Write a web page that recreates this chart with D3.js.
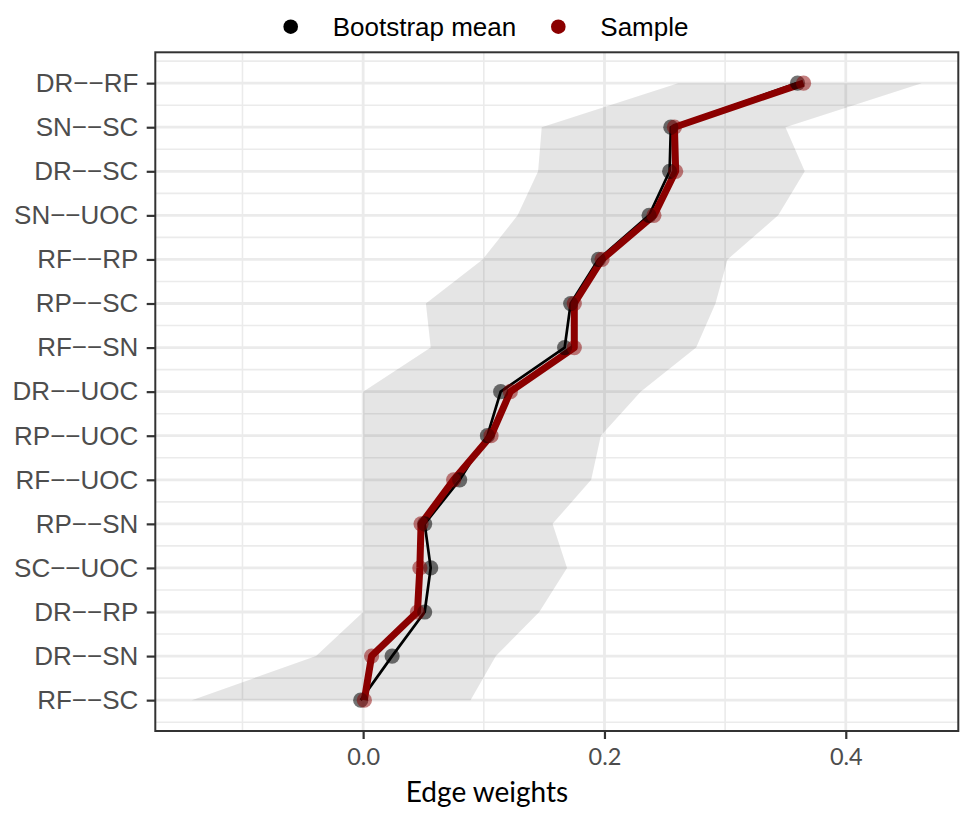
<!DOCTYPE html>
<html>
<head>
<meta charset="utf-8">
<script src="https://d3js.org/d3.v7.min.js"></script>
<style>
  body { margin: 0; background: #fff; }
</style>
</head>
<body>
<div id="chart"></div>
<script>
// edges, top to bottom
var edges = ["DR\u2212\u2212RF", "SN\u2212\u2212SC", "DR\u2212\u2212SC", "SN\u2212\u2212UOC", "RF\u2212\u2212RP",
             "RP\u2212\u2212SC", "RF\u2212\u2212SN", "DR\u2212\u2212UOC", "RP\u2212\u2212UOC", "RF\u2212\u2212UOC",
             "RP\u2212\u2212SN", "SC\u2212\u2212UOC", "DR\u2212\u2212RP", "DR\u2212\u2212SN", "RF\u2212\u2212SC"];
var bootMean = [0.360, 0.255, 0.254, 0.237, 0.195, 0.172, 0.167, 0.114, 0.103, 0.080, 0.051, 0.056, 0.051, 0.024, -0.002];
var sample   = [0.365, 0.258, 0.259, 0.241, 0.198, 0.175, 0.175, 0.122, 0.106, 0.075, 0.048, 0.047, 0.045, 0.007, 0.001];
var ciLower  = [0.261, 0.148, 0.145, 0.128, 0.099, 0.052, 0.056, 0.000, 0.000, 0.000, 0.000, 0.000, 0.000, -0.039, -0.142];
var ciUpper  = [0.463, 0.350, 0.366, 0.344, 0.302, 0.292, 0.276, 0.230, 0.197, 0.189, 0.157, 0.169, 0.146, 0.110, 0.089];
var xTicks = [0.0, 0.2, 0.4];
var xMinor = [-0.1, 0.1, 0.3];
var legendLabels = ["Bootstrap mean", "Sample"];
var legendColors = ["#000000", "#8B0000"];

var W = 974, H = 821;
var pLeft = 155.3, pRight = 958.3, pTop = 52.3, pBottom = 731;

var svg = d3.select("#chart").append("svg")
    .attr("width", W)
    .attr("height", H);

// scales
var lo = d3.min(ciLower), hi = d3.max(ciUpper), pad = (hi - lo) * 0.05;
var x = d3.scaleLinear()
    .domain([lo - pad, hi + pad])
    .range([pLeft, pRight]);

var y = d3.scalePoint()
    .domain(edges)
    .range([pTop, pBottom])
    .padding(0.7);

var step = y.step();

// panel background + grid
svg.append("rect")
    .attr("x", pLeft).attr("y", pTop)
    .attr("width", pRight - pLeft).attr("height", pBottom - pTop)
    .attr("fill", "#fff");

var grid = svg.append("g");
// minor horizontal lines between rows
var minorY = [y(edges[0]) - step / 2].concat(edges.map(function(e) { return y(e) + step / 2; }));
grid.selectAll(".hmin").data(minorY).enter().append("line")
    .attr("x1", pLeft).attr("x2", pRight)
    .attr("y1", function(d) { return d; }).attr("y2", function(d) { return d; })
    .attr("stroke", "#ebebeb").attr("stroke-width", 1.6);
grid.selectAll(".vmin").data(xMinor).enter().append("line")
    .attr("x1", function(d) { return x(d); }).attr("x2", function(d) { return x(d); })
    .attr("y1", pTop).attr("y2", pBottom)
    .attr("stroke", "#ebebeb").attr("stroke-width", 1.6);
grid.selectAll(".hmaj").data(edges).enter().append("line")
    .attr("x1", pLeft).attr("x2", pRight)
    .attr("y1", function(d) { return y(d); }).attr("y2", function(d) { return y(d); })
    .attr("stroke", "#ebebeb").attr("stroke-width", 2.8);
grid.selectAll(".vmaj").data(xTicks).enter().append("line")
    .attr("x1", function(d) { return x(d); }).attr("x2", function(d) { return x(d); })
    .attr("y1", pTop).attr("y2", pBottom)
    .attr("stroke", "#ebebeb").attr("stroke-width", 2.8);

// CI ribbon
var ribbon = d3.area()
    .y(function(d, i) { return y(edges[i]); })
    .x0(function(d, i) { return x(ciLower[i]); })
    .x1(function(d, i) { return x(ciUpper[i]); });

svg.append("path")
    .datum(edges)
    .attr("d", ribbon)
    .attr("fill", "#000")
    .attr("fill-opacity", 0.1);

// lines
var line = function(vals) {
  return d3.line()
    .x(function(d, i) { return x(vals[i]); })
    .y(function(d, i) { return y(edges[i]); })(edges);
};

svg.append("path")
    .attr("d", line(bootMean))
    .attr("fill", "none")
    .attr("stroke", "#000")
    .attr("stroke-width", 2.7)
    .attr("stroke-linejoin", "round");

svg.append("path")
    .attr("d", line(sample))
    .attr("fill", "none")
    .attr("stroke", "#8B0000")
    .attr("stroke-width", 7)
    .attr("stroke-linejoin", "round");

// points
svg.append("g").selectAll("circle")
    .data(bootMean).enter().append("circle")
    .attr("cx", function(d) { return x(d); })
    .attr("cy", function(d, i) { return y(edges[i]); })
    .attr("r", 7.6)
    .attr("fill", "#000")
    .attr("fill-opacity", 0.55);

svg.append("g").selectAll("circle")
    .data(sample).enter().append("circle")
    .attr("cx", function(d) { return x(d); })
    .attr("cy", function(d, i) { return y(edges[i]); })
    .attr("r", 7.6)
    .attr("fill", "#8B0000")
    .attr("fill-opacity", 0.5);

// panel border
svg.append("rect")
    .attr("x", pLeft).attr("y", pTop)
    .attr("width", pRight - pLeft).attr("height", pBottom - pTop)
    .attr("fill", "none")
    .attr("stroke", "#333")
    .attr("stroke-width", 2);

// y axis
var yAxis = svg.append("g")
    .attr("transform", "translate(" + pLeft + ",0)")
    .call(d3.axisLeft(y).tickSize(8.6).tickPadding(8.4));
yAxis.select(".domain").remove();
yAxis.selectAll(".tick line").attr("stroke", "#333").attr("stroke-width", 2.2);
yAxis.selectAll(".tick text")
    .attr("fill", "#4d4d4d")
    .style("font-family", "'Liberation Sans', Arial, sans-serif")
    .style("font-size", "26px");

// x axis
var xAxis = svg.append("g")
    .attr("transform", "translate(0," + pBottom + ")")
    .call(d3.axisBottom(x).tickValues(xTicks).tickFormat(d3.format(".1f")).tickSize(8));
xAxis.select(".domain").remove();
xAxis.selectAll(".tick line").attr("stroke", "#333").attr("stroke-width", 2.2);
xAxis.selectAll(".tick text")
    .attr("y", 34).attr("dy", null)
    .attr("fill", "#4d4d4d")
    .style("font-family", "Lato, 'Open Sans', sans-serif")
    .style("font-size", "23.5px");

// x title
svg.append("text")
    .attr("x", 487).attr("y", 801.5)
    .attr("text-anchor", "middle")
    .style("font-family", "Lato, 'Open Sans', sans-serif")
    .style("font-size", "28px")
    .attr("fill", "#000")
    .text("Edge weights");

// legend
var legendX = [290.7, 558.3];
var leg = svg.append("g").selectAll("g")
    .data(legendLabels).enter().append("g")
    .attr("transform", function(d, i) { return "translate(" + legendX[i] + ",26.7)"; });
leg.append("circle")
    .attr("r", 7.3)
    .attr("fill", function(d, i) { return legendColors[i]; });
leg.append("text")
    .attr("x", 42)
    .attr("y", 9.3)
    .style("font-family", "'Liberation Sans', Arial, sans-serif")
    .style("font-size", "26px")
    .attr("fill", "#000")
    .text(function(d) { return d; });
</script>
</body>
</html>
